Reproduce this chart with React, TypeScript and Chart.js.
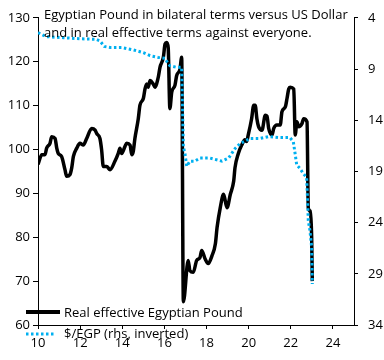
import React, { useEffect, useRef } from "react";
import { Chart, registerables } from "chart.js";

Chart.register(...registerables);

// Real effective Egyptian Pound (left axis), dates as years since 2000
const reerYears = [
  10.0, 10.18, 10.33, 10.41, 10.57, 10.65, 10.81, 10.89, 10.96, 11.12, 11.28, 11.36,
  11.52, 11.6, 11.68, 11.84, 11.99, 12.15, 12.31, 12.55, 12.71, 12.79, 12.94, 13.02,
  13.1, 13.26, 13.42, 13.65, 13.81, 13.89, 13.97, 14.13, 14.21, 14.37, 14.45, 14.52,
  14.6, 14.76, 14.84, 15.0, 15.08, 15.16, 15.23, 15.32, 15.47, 15.55, 15.71, 15.79,
  15.95, 16.03, 16.11, 16.18, 16.26, 16.35, 16.5, 16.58, 16.74, 16.82, 16.9, 17.13,
  17.21, 17.37, 17.53, 17.69, 17.77, 17.93, 18.08, 18.26, 18.42, 18.5, 18.65, 18.81,
  18.97, 19.13, 19.29, 19.35, 19.51, 19.67, 19.82, 19.9, 19.98, 20.14, 20.24, 20.31,
  20.39, 20.47, 20.63, 20.79, 20.87, 20.95, 21.11, 21.19, 21.34, 21.5, 21.58, 21.74,
  21.82, 21.9, 21.97, 22.14, 22.21, 22.29, 22.37, 22.53, 22.61, 22.77, 22.83, 22.91,
  22.99, 23.02,
];
const reerValues = [
  96.6, 98.8, 98.8, 100.3, 101.4, 102.9, 102.5, 100.3, 99.1, 98.4, 95.4, 93.9,
  94.3, 95.8, 98.4, 100.3, 101.4, 101.0, 102.5, 104.8, 104.4, 103.6, 102.5, 99.9,
  96.1, 96.1, 95.4, 97.3, 99.1, 100.3, 99.1, 100.7, 101.4, 101.0, 98.8, 99.5,
  102.5, 107.0, 110.1, 111.6, 113.8, 114.9, 114.2, 115.7, 114.9, 114.2, 116.5, 118.7,
  121.0, 124.0, 124.4, 123.2, 109.3, 113.1, 114.6, 116.8, 118.3, 121.0, 65.3, 74.7,
  72.4, 72.0, 74.7, 75.4, 77.0, 75.1, 74.0, 75.8, 78.5, 82.2, 86.7, 89.8,
  86.7, 89.8, 92.8, 95.8, 99.1, 101.0, 102.2, 101.8, 103.3, 107.0, 110.1, 110.1,
  107.0, 105.2, 104.4, 107.8, 107.6, 104.8, 103.3, 104.8, 105.6, 105.6, 108.6, 109.7,
  111.6, 113.8, 114.2, 113.8, 103.3, 106.3, 105.2, 105.9, 107.0, 106.3, 86.7, 86.0,
  80.0, 70.0,
];

// $/EGP exchange rate (right axis, inverted)
const usdYears = [
  10.0, 10.38, 11.2, 11.99, 12.75, 12.94, 13.15, 13.42, 13.97, 14.52, 15.0, 15.32,
  15.71, 16.03, 16.18, 16.26, 16.58, 16.82, 16.9, 16.98, 17.06, 17.21, 17.45, 17.69,
  18.16, 18.73, 19.05, 19.36, 19.6, 20.08, 20.55, 20.95, 21.42, 21.96, 22.12, 22.2,
  22.28, 22.43, 22.59, 22.75, 22.79, 22.83, 22.91, 22.99, 23.02,
];
const usdValues = [
  5.45, 5.84, 5.94, 6.05, 6.1, 6.26, 6.8, 6.9, 6.9, 7.13, 7.4, 7.7,
  7.87, 7.95, 8.5, 8.68, 8.84, 8.84, 16.6, 17.3, 18.5, 18.0, 18.0, 17.7,
  17.7, 18.0, 17.7, 16.75, 16.26, 15.78, 15.78, 15.6, 15.7, 15.7, 16.1, 17.2,
  18.36, 18.7, 19.2, 19.6, 21.5, 23.8, 24.8, 26.4, 30.0,
];

const xTickValues = [10, 12, 14, 16, 18, 20, 22, 24];
const leftTickValues = [60, 70, 80, 90, 100, 110, 120, 130];
const rightTickValues = [4, 9, 14, 19, 24, 29, 34];
const titleLines = [
  "Egyptian Pound in bilateral terms versus US Dollar",
  "and in real effective terms against everyone.",
];
const seriesLabels = ["Real effective Egyptian Pound", "$/EGP (rhs, inverted)"];

const BLUE = "#00B0F0";
const FONT = "'Open Sans', 'Noto Sans', sans-serif";

const textPlugin = {
  id: "textPlugin",
  afterDraw(chart: any) {
    const ctx = chart.ctx;
    ctx.save();
    ctx.fillStyle = "#000";
    ctx.font = `13px ${FONT}`;
    ctx.textAlign = "left";
    ctx.textBaseline = "alphabetic";
    ctx.fillText(titleLines[0], 44, 19);
    ctx.fillText(titleLines[1], 44, 37);

    // legend
    ctx.strokeStyle = "#000";
    ctx.lineWidth = 4;
    ctx.setLineDash([]);
    ctx.beginPath();
    ctx.moveTo(26, 312);
    ctx.lineTo(60, 312);
    ctx.stroke();
    ctx.fillText(seriesLabels[0], 64, 317);

    ctx.strokeStyle = BLUE;
    ctx.lineWidth = 3;
    ctx.setLineDash([2.5, 2.5]);
    ctx.beginPath();
    ctx.moveTo(26, 334);
    ctx.lineTo(56, 334);
    ctx.stroke();
    ctx.setLineDash([]);
    ctx.fillText(seriesLabels[1], 64, 338);
    ctx.restore();
  },
};

export default function App() {
  const canvasRef = useRef<HTMLCanvasElement | null>(null);

  useEffect(() => {
    const canvas = canvasRef.current;
    if (!canvas) return;
    const tickFont = { family: FONT, size: 13 };
    const chart = new Chart(canvas, {
      type: "line",
      data: {
        datasets: [
          {
            label: seriesLabels[0],
            data: reerYears.map((x, i) => ({ x, y: reerValues[i] })),
            yAxisID: "y",
            borderColor: "#000",
            borderWidth: 3.5,
            pointRadius: 0,
            cubicInterpolationMode: "monotone",
            order: 2,
          },
          {
            label: seriesLabels[1],
            data: usdYears.map((x, i) => ({ x, y: usdValues[i] })),
            yAxisID: "y2",
            borderColor: BLUE,
            borderWidth: 3,
            borderDash: [2.5, 2.5],
            pointRadius: 0,
            tension: 0,
            order: 1,
          },
        ],
      },
      options: {
        animation: false,
        responsive: false,
        devicePixelRatio: 1,
        layout: { padding: { top: 15, left: 0, right: 0, bottom: 0 } },
        plugins: { legend: { display: false }, tooltip: { enabled: false }, title: { display: false } },
        scales: {
          x: {
            type: "linear",
            min: 10,
            max: 25,
            afterBuildTicks: (s: any) => {
              s.ticks = xTickValues.map((v) => ({ value: v }));
            },
            afterFit: (s: any) => {
              s.height = 35;
            },
            ticks: { font: tickFont, color: "#000", padding: 6, maxRotation: 0, autoSkip: false },
            grid: { drawOnChartArea: false, drawTicks: true, tickLength: 4, color: "#000" },
            border: { display: true, color: "#000", width: 1 },
          },
          y: {
            type: "linear",
            position: "left",
            min: 60,
            max: 130,
            afterBuildTicks: (s: any) => {
              s.ticks = leftTickValues.map((v) => ({ value: v }));
            },
            afterFit: (s: any) => {
              s.width = 38;
            },
            ticks: { font: tickFont, color: "#000", padding: 3 },
            grid: { drawOnChartArea: false, drawTicks: true, tickLength: 5, color: "#000" },
            border: { display: true, color: "#000", width: 1 },
          },
          y2: {
            type: "linear",
            position: "right",
            reverse: true,
            min: 4,
            max: 34,
            afterBuildTicks: (s: any) => {
              s.ticks = rightTickValues.map((v) => ({ value: v }));
            },
            afterFit: (s: any) => {
              s.width = 30;
            },
            ticks: { font: tickFont, color: "#000", padding: 10 },
            grid: { drawOnChartArea: false, drawTicks: true, tickLength: 4, color: "#000" },
            border: { display: true, color: "#000", width: 1 },
          },
        },
      },
      plugins: [textPlugin],
    } as any);
    return () => chart.destroy();
  }, []);

  return (
    <div style={{ position: "fixed", left: 0, top: 0, width: 384, height: 360, background: "#fff" }}>
      <canvas ref={canvasRef} width={384} height={360} style={{ width: 384, height: 360 }} />
    </div>
  );
}
